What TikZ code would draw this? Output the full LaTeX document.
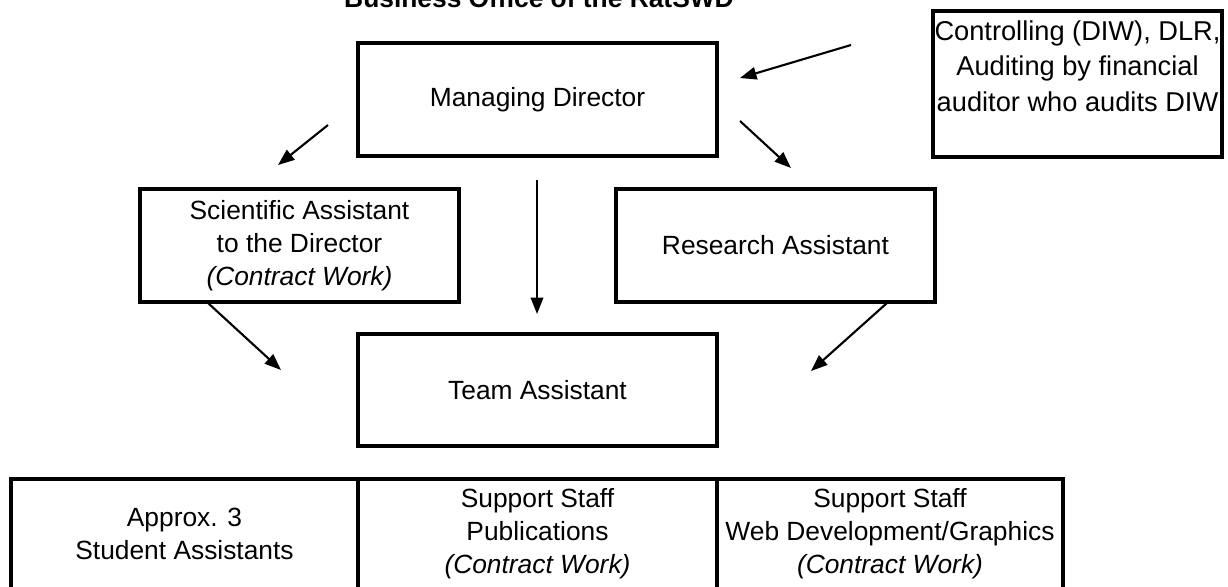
\documentclass[tikz,border=0pt]{standalone}
\usepackage{fontspec}
\setmainfont{Liberation Sans}
\usepackage{tikz}
\usetikzlibrary{arrows.meta,positioning}

\begin{document}
\begin{tikzpicture}[x=0.02cm,y=-0.02cm]
	\useasboundingbox (0,0) rectangle (1228,586);
	\node[anchor=base,font=\fontsize{15}{18.8}\selectfont\bfseries] (title) at (539,7) {Business Office of the RatSWD};
	\begin{scope}[every node/.style={rectangle,draw,line width=1.8pt,align=center,inner sep=0pt,minimum height=2.26cm,font=\fontsize{15}{18.8}\selectfont}]
		\node[minimum width=7.18cm] (md) at (537.5,99.5) {Managing Director};
		\node[minimum width=5.78cm,minimum height=2.92cm] (ctrl) at (1077.5,84) {};
		\node[minimum width=6.38cm] (sci) at (299.5,245.5) {Scientific Assistant\\to the Director\\\textit{(Contract Work)}};
		\node[minimum width=6.38cm] (res) at (775.5,245.5) {Research Assistant};
		\node[minimum width=7.18cm,minimum height=2.24cm] (team) at (537.5,390) {Team Assistant};
		\node[minimum width=6.94cm,minimum height=2.2cm] (stud) at (184.5,534) {Approx. 3\\Student Assistants};
		\node[minimum width=7.18cm,minimum height=2.2cm] (pub) at (537.5,534) {Support Staff\\Publications\\\textit{(Contract Work)}};
		\node[minimum width=6.92cm,minimum height=2.2cm] (web) at (890,534) {Support Staff\\Web Development/Graphics\\\textit{(Contract Work)}};
	\end{scope}
	\node[anchor=north,align=center,inner sep=0pt,font=\fontsize{15.5}{20.3}\selectfont] (ctrltext) at (1077.5,20) {Controlling (DIW), DLR,\\Auditing by financial\\auditor who audits DIW};
	\coordinate (c1) at (851,45);
	\coordinate (c2) at (740,78);
	\coordinate (m1) at (328,125);
	\coordinate (m2) at (278,165);
	\coordinate (m3) at (740,121);
	\coordinate (m4) at (791,168);
	\coordinate (m5) at (537,180);
	\coordinate (m6) at (537,314);
	\coordinate (s1) at (208,303);
	\coordinate (s2) at (281,370);
	\coordinate (r1) at (887,303);
	\coordinate (r2) at (811,371);
	\begin{scope}[every edge/.style={draw,line width=1.2pt,-{Triangle[length=0.33cm,width=0.25cm]}}]
		\draw (c1) edge (c2);
		\draw (m1) edge (m2);
		\draw (m3) edge (m4);
		\draw (m5) edge (m6);
		\draw (s1) edge (s2);
		\draw (r1) edge (r2);
	\end{scope}
\end{tikzpicture}
\end{document}
